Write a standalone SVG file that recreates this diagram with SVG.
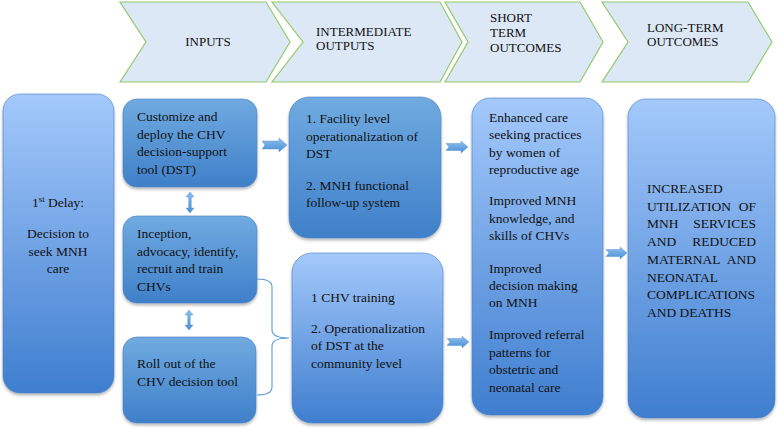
<svg xmlns="http://www.w3.org/2000/svg" width="778" height="430" viewBox="0 0 778 430" font-family="'Liberation Serif', 'Times New Roman', 'DejaVu Serif', serif">
<style>
.chev{fill:#dce8f6;stroke:#93c96b;stroke-width:1.2}
.hd{font-family:'Liberation Serif','Times New Roman','DejaVu Serif',serif;font-size:13px;fill:#111}
.t{font-family:'Liberation Serif','Times New Roman','DejaVu Serif',serif;font-size:13.5px;fill:#111}
.bx{stroke:#4b82c4;stroke-width:0.6;filter:url(#sh)}
.lt{fill:url(#gl)}
.dk{fill:url(#gd)}
.arr{fill:url(#ga);stroke:#4a88cc;stroke-width:0.4}
.brace{fill:none;stroke:#5b9bd5;stroke-width:1.1}
</style>
<defs>
<linearGradient id="gl" x1="0" y1="0" x2="0" y2="1">
<stop offset="0" stop-color="#a4c9fb"/>
<stop offset="1" stop-color="#3f7ecf"/>
</linearGradient>
<linearGradient id="gd" x1="0" y1="0" x2="0" y2="1">
<stop offset="0" stop-color="#70aae0"/>
<stop offset="1" stop-color="#3f80c9"/>
</linearGradient>
<linearGradient id="ga" x1="0" y1="0" x2="0" y2="1">
<stop offset="0" stop-color="#8dc0ef"/>
<stop offset="1" stop-color="#4a8fd6"/>
</linearGradient>
<filter id="sh" x="-10%" y="-10%" width="120%" height="120%">
<feDropShadow dx="0" dy="2" stdDeviation="1.5" flood-color="#000" flood-opacity="0.3"/>
</filter>
</defs>

<g id="header-inputs">
<polygon class="chev" points="120,2 266,2 290,42 266,82 120,82 146,42"/>
<text class="hd" x="208" y="46" text-anchor="middle">INPUTS</text>
</g>
<g id="header-intermediate">
<polygon class="chev" points="272,2 440,2 462,42 440,82 272,82 303,42"/>
<text class="hd" x="316" y="36">INTERMEDIATE</text>
<text class="hd" x="316" y="50">OUTPUTS</text>
</g>
<g id="header-short">
<polygon class="chev" points="445,2 580,2 603,42 580,82 445,82 468,42"/>
<text class="hd" x="490" y="22">SHORT</text>
<text class="hd" x="490" y="37">TERM</text>
<text class="hd" x="490" y="52">OUTCOMES</text>
</g>
<g id="header-long">
<polygon class="chev" points="602,2 748,2 772,42 748,82 602,82 628,42"/>
<text class="hd" x="647" y="32">LONG-TERM</text>
<text class="hd" x="647" y="46">OUTCOMES</text>
</g>

<g id="delay">
<rect class="bx lt" x="3" y="94" width="111" height="299" rx="17"/>
<text class="t" x="58" y="207" text-anchor="middle">1<tspan font-size="9" dy="-5">st</tspan><tspan dy="5"> Delay:</tspan></text>
<text class="t" x="58" y="238" text-anchor="middle">Decision to</text>
<text class="t" x="58" y="256" text-anchor="middle">seek MNH</text>
<text class="t" x="58" y="273" text-anchor="middle">care</text>
</g>

<g id="customize">
<rect class="bx dk" x="123" y="99" width="134" height="88" rx="14"/>
<text class="t" x="137" y="121">Customize and</text>
<text class="t" x="137" y="138.5">deploy the CHV</text>
<text class="t" x="137" y="156">decision-support</text>
<text class="t" x="137" y="173.5">tool (DST)</text>
</g>

<g id="inception">
<rect class="bx dk" x="123" y="216" width="134" height="87" rx="14"/>
<text class="t" x="137" y="238">Inception,</text>
<text class="t" x="137" y="256">advocacy, identify,</text>
<text class="t" x="137" y="273">recruit and train</text>
<text class="t" x="137" y="291">CHVs</text>
</g>

<g id="rollout">
<rect class="bx dk" x="123" y="337" width="133" height="86" rx="14"/>
<text class="t" x="137" y="368">Roll out of the</text>
<text class="t" x="137" y="386">CHV decision tool</text>
</g>

<g id="facility">
<rect class="bx dk" x="289" y="97" width="152" height="141" rx="20"/>
<text class="t" x="306" y="123">1. Facility level</text>
<text class="t" x="306" y="141">operationalization of</text>
<text class="t" x="306" y="158">DST</text>
<text class="t" x="306" y="190">2. MNH functional</text>
<text class="t" x="306" y="207">follow-up system</text>
</g>

<g id="chvtraining">
<rect class="bx lt" x="292" y="253" width="151" height="170" rx="20"/>
<text class="t" x="311" y="302">1 CHV training</text>
<text class="t" x="311" y="333">2. Operationalization</text>
<text class="t" x="311" y="350">of DST at the</text>
<text class="t" x="311" y="368">community level</text>
</g>

<g id="shortterm">
<rect class="bx lt" x="472" y="98" width="131" height="317" rx="18"/>
<text class="t" x="489" y="122">Enhanced care</text>
<text class="t" x="489" y="139">seeking practices</text>
<text class="t" x="489" y="157">by women of</text>
<text class="t" x="489" y="174">reproductive age</text>
<text class="t" x="489" y="205">Improved MNH</text>
<text class="t" x="489" y="223">knowledge, and</text>
<text class="t" x="489" y="240">skills of CHVs</text>
<text class="t" x="489" y="273">Improved</text>
<text class="t" x="489" y="290">decision making</text>
<text class="t" x="489" y="307">on MNH</text>
<text class="t" x="489" y="339">Improved referral</text>
<text class="t" x="489" y="357">patterns for</text>
<text class="t" x="489" y="374">obstetric and</text>
<text class="t" x="489" y="392">neonatal care</text>
</g>

<g id="longterm">
<rect class="bx lt" x="628" y="99" width="147" height="319" rx="18"/>
<text class="t" x="647" y="193">INCREASED</text>
<text class="t" x="647" y="211">UTILIZATION</text><text class="t" x="756" y="211" text-anchor="end">OF</text>
<text class="t" x="647" y="228">MNH</text><text class="t" x="756" y="228" text-anchor="end">SERVICES</text>
<text class="t" x="647" y="246">AND</text><text class="t" x="756" y="246" text-anchor="end">REDUCED</text>
<text class="t" x="647" y="264">MATERNAL</text><text class="t" x="756" y="264" text-anchor="end">AND</text>
<text class="t" x="647" y="282">NEONATAL</text>
<text class="t" x="647" y="299">COMPLICATIONS</text>
<text class="t" x="647" y="317">AND DEATHS</text>
</g>

<g id="connectors">
<polygon class="arr" points="262,141 279,141 279,138 287,145 279,152 279,149 262,149 265,145"/>
<polygon class="arr" points="446,143.5 461,143.5 461,141 468,147 461,153 461,150.5 446,150.5 449,147"/>
<polygon class="arr" points="447,338.5 462,338.5 462,336 469,342 462,348 462,345.5 447,345.5 450,342"/>
<polygon class="arr" points="606,249.5 620,249.5 620,247 627,253 620,259 620,256.5 606,256.5 609,253"/>
<polygon class="arr" points="190,192 194,197 191.3,197 191.3,208 194,208 190,213 186,208 188.7,208 188.7,197 186,197"/>
<polygon class="arr" points="189,310 193,315 190.3,315 190.3,325 193,325 189,330 185,325 187.7,325 187.7,315 185,315"/>
<path class="brace" d="M257,279 Q272,279 272,287 L272,330 Q272,338 289,338 Q272,338 272,346 L272,387 Q272,395 257,395"/>
</g>
</svg>
